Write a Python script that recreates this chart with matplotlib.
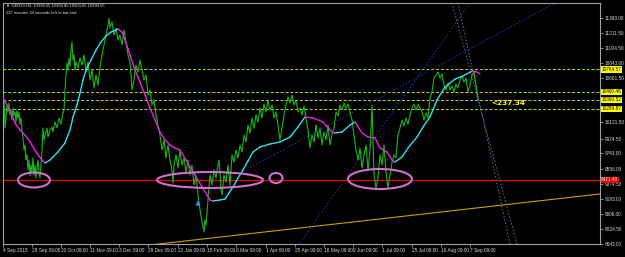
import matplotlib.pyplot as plt
from matplotlib.patches import Ellipse

# --- GER30 H4 close line (bar position, price) ---
bars = [4, 5, 6, 7, 8, 9, 10, 11, 12, 13, 14, 15, 16, 17, 18, 19, 20, 21, 22, 23, 24, 25, 26, 27,
        28, 29, 30, 31, 32, 33, 34, 35, 36, 37, 38, 39, 40, 41, 42, 43, 44, 45, 47, 48, 50, 52, 53,
        55, 57, 59, 61, 63, 64, 65, 66, 67, 68, 69, 70, 71, 72, 73, 74, 75, 76, 78, 80, 82, 84, 86,
        88, 90, 92, 94, 96, 98, 100, 102, 104, 106, 108, 109, 110, 112, 114, 116, 118, 120, 122, 124,
        126, 128, 130, 132, 134, 136, 138, 140, 142, 144, 146, 148, 150, 152, 154, 156, 158, 160,
        162, 164, 166, 168, 170, 172, 173, 174, 176, 178, 180, 182, 184, 186, 188, 190, 192, 194,
        196, 198, 200, 202, 204, 205, 206, 208, 210, 212, 214, 216, 218, 219, 220, 221, 222, 224,
        226, 228, 230, 232, 234, 236, 238, 240, 242, 244, 246, 248, 250, 252, 254, 256, 258, 260,
        262, 264, 266, 268, 270, 272, 274, 276, 278, 280, 282, 284, 286, 288, 290, 292, 294, 296,
        298, 300, 302, 304, 306, 308, 310, 312, 314, 316, 318, 320, 322, 324, 326, 328, 330, 332,
        334, 336, 338, 340, 342, 344, 346, 348, 350, 352, 354, 356, 358, 360, 362, 364, 366, 368,
        370, 372, 373, 374, 376, 378, 380, 382, 384, 386, 388, 390, 392, 394, 396, 398, 400, 402,
        404, 406, 408, 410, 412, 414, 416, 418, 420, 422, 424, 426, 428, 430, 432, 434, 436, 438,
        440, 442, 444, 446, 448, 450, 452, 454, 456, 458, 460, 462, 464, 466, 468, 470, 472, 474,
        476, 478]
close = [10393, 10053, 10174, 10332, 10247, 10357, 10211, 10271, 10150, 10296, 10199, 10247, 10126,
         10271, 10174, 10247, 10101, 10174, 10028, 9931, 9785, 9846, 9664, 9725, 9543, 9664, 9470,
         9603, 9518, 9688, 9482, 9603, 9445, 9567, 9664, 9518, 9445, 9603, 9785, 10053, 9907, 9968,
         10053, 9943, 10028, 10065, 10004, 10126, 10053, 10174, 10101, 10235, 10271, 10515, 10697,
         10843, 10758, 10903, 10806, 11000, 11098, 10879, 10940, 10758, 10855, 10782, 10903, 10818,
         10940, 10733, 10855, 10636, 10758, 10539, 10697, 10575, 10782, 10940, 11061, 11183, 11304,
         11389, 11268, 11341, 11183, 11268, 11122, 11183, 11061, 11244, 11098, 10940, 10855, 10515,
         10636, 10818, 10733, 10879, 10758, 10636, 10697, 10454, 10515, 10332, 10393, 10211, 10089,
         9968, 9785, 9907, 9688, 9846, 9664, 9543, 9385, 9603, 9725, 9567, 9785, 9603, 9688, 9518,
         9664, 9482, 9603, 9360, 9482, 9239, 9057, 8911, 8789, 8935, 8874, 9178, 9482, 9360, 9543,
         9445, 9603, 9664, 9518, 9300, 9239, 9482, 9397, 9603, 9360, 9725, 9640, 9785, 9688, 9846,
         9761, 9968, 9883, 10089, 9992, 10174, 10053, 10211, 10126, 10296, 10174, 10344, 10247,
         10393, 10271, 10332, 10174, 10247, 10089, 9907, 10053, 10211, 10332, 10430, 10357, 10454,
         10332, 10393, 10247, 10296, 10211, 10320, 10174, 10028, 9810, 9968, 9883, 10089, 9931,
         10053, 9846, 10004, 9907, 10089, 9846, 9968, 10053, 10247, 10199, 10332, 10271, 10357,
         10296, 10344, 10247, 10150, 9968, 9785, 9664, 9810, 9567, 9725, 9846, 9543, 9785, 10332,
         9907, 9482, 9324, 9445, 9725, 9603, 9846, 9518, 9324, 9482, 9628, 9725, 9688, 9968, 10053,
         10150, 10077, 10174, 10101, 10211, 10296, 10344, 10271, 10344, 10296, 10247, 10150, 10235,
         10174, 10417, 10490, 10660, 10697, 10733, 10660, 10709, 10575, 10515, 10600, 10515, 10563,
         10490, 10587, 10539, 10636, 10685, 10612, 10660, 10490, 10575, 10697, 10733, 10575, 10393]

# --- moving average (bar position, value) ---
ma_bars = [4, 10, 15, 20, 25, 30, 36, 42, 45, 50, 53, 58, 65, 70, 73, 77, 80, 83, 86, 91, 96, 101,
           106, 111, 118, 122, 125, 130, 135, 140, 145, 150, 155, 160, 165, 170, 175, 180, 186,
           193, 202, 207, 210, 213, 220, 225, 229, 233, 238, 243, 248, 253, 260, 270, 280, 290,
           298, 305, 313, 323, 332, 335, 342, 350, 355, 362, 368, 375, 380, 387, 392, 395, 402,
           408, 417, 423, 430, 437, 445, 455, 463, 472, 477, 480]
ma_vals = [10393, 10271, 10114, 10028, 9968, 9883, 9761, 9664, 9628, 9664, 9700, 9761, 9871, 10028,
           10186, 10332, 10478, 10636, 10758, 10879, 11000, 11098, 11171, 11219, 11256, 11219,
           11122, 10940, 10758, 10612, 10454, 10296, 10150, 10004, 9907, 9846, 9810, 9785, 9664,
           9518, 9336, 9239, 9178, 9166, 9178, 9190, 9263, 9336, 9445, 9543, 9652, 9761, 9822,
           9858, 9883, 9943, 10065, 10186, 10174, 10126, 10004, 9992, 10004, 10089, 10126, 9992,
           9943, 9931, 9810, 9761, 9664, 9640, 9700, 9810, 9943, 10065, 10186, 10393, 10551,
           10648, 10685, 10745, 10733, 10709]

# --- horizontal levels ---
yellow_levels = [10764.57, 10490.48, 10393.52, 10284.87]
red_level = 9421.40

# --- drawn objects ---
trend_x = [150, 600]
trend_y = [8631, 9251]
channel_x = [[290, 470], [250, 555]]
channel_y = [[8485, 11572], [9570, 11572]]
fan_x = [[452, 517], [458, 510]]
fan_y = [[11572, 8643], [11572, 8643]]
ellipse_x = [34, 210, 276, 380]
ellipse_y = [9421, 9421, 9445, 9433]
ellipse_w = [32, 106, 13, 64]
ellipse_h = [182, 194, 122, 243]
arrow_bar = 198
arrow_price = 9178
profit_text = "<237.34"
profit_bar = 491
profit_price = 10357

# --- axis labels ---
price_ticks = [11393.00, 11211.50, 11024.50, 10843.00, 10661.50, 10121.50, 9924.50, 9743.00,
               9556.00, 9374.50, 9193.00, 9006.00, 8824.50, 8643.00]
date_ticks = [3, 32, 61, 90, 119, 148, 178, 207, 236, 266, 295, 324, 353, 382, 412, 441, 470]
date_labels = ["4 Sep 2015", "28 Sep 09:00", "20 Oct 09:00", "11 Nov 09:00", "3 Dec 09:00",
               "29 Dec 09:00", "22 Jan 09:00", "15 Feb 09:00", "8 Mar 09:00", "1 Apr 09:00",
               "25 Apr 09:00", "18 May 09:00", "9 Jun 09:00", "1 Jul 09:00", "25 Jul 09:00",
               "16 Aug 09:00", "7 Sep 09:00"]

W, H = 625, 257
fig = plt.figure(figsize=(W / 100, H / 100), dpi=100, facecolor="black")
ax = fig.add_axes([3 / W, 1 - 244 / H, 597 / W, 241 / H], facecolor="black")
ax.set_xlim(3, 600)
ax.set_ylim(8643, 11572)

for s in ax.spines.values():
    s.set_color("#a0a0a0")
    s.set_linewidth(0.8)

small = dict(family=["Liberation Sans", "DejaVu Sans"], size=3.4)
tiny = dict(family=["Liberation Sans", "DejaVu Sans"], size=3.0)

# levels
for lv in yellow_levels:
    ax.axhline(lv, color="#d4d400", lw=0.7, ls=(0, (3, 2)), zorder=1)
ax.axhline(red_level, color="#ee0000", lw=0.9, zorder=1)

# trend / channel / fan lines
ax.plot(trend_x, trend_y, color="#c8a000", lw=0.8, zorder=1)
for xs, ys in zip(channel_x, channel_y):
    ax.plot(xs, ys, color="#2a36c0", lw=0.7, ls=(0, (1.5, 2)), zorder=1)
for xs, ys in zip(fan_x, fan_y):
    ax.plot(xs, ys, color="#5a7aa0", lw=0.7, ls=(0, (1.5, 2)), zorder=1)

# price line
ax.plot(bars, close, color="#18b818", lw=0.8, zorder=3)

# moving average, cyan while rising, magenta while falling
for i in range(len(ma_bars) - 1):
    c = "#30e0f0" if ma_vals[i + 1] >= ma_vals[i] else "#f020e8"
    ax.plot(ma_bars[i:i + 2], ma_vals[i:i + 2], color=c, lw=1.0, zorder=4,
            solid_capstyle="round")

for cx, cy, w, h in zip(ellipse_x, ellipse_y, ellipse_w, ellipse_h):
    ax.add_patch(Ellipse((cx, cy), w, h, fill=False, edgecolor="#d070d0", lw=1.5, zorder=5))

ax.annotate("", xy=(arrow_bar, arrow_price + 30), xytext=(arrow_bar, arrow_price - 70),
            arrowprops=dict(arrowstyle="-|>", color="#2e8ee8", lw=1.2, mutation_scale=5),
            zorder=6)

ax.text(profit_bar, profit_price, profit_text, color="#ffff00", fontsize=5.2,
        fontweight="bold", va="center", ha="left", zorder=6)

# right price scale
ax.yaxis.tick_right()
ax.set_yticks(price_ticks)
ax.set_yticklabels([f"{p:.2f}" for p in price_ticks], fontdict=small)
ax.tick_params(axis="y", colors="#a0a0a0", length=2, width=0.6, pad=1.2)
for lv in yellow_levels:
    ax.text(1.002, lv, f"{lv:.2f}", transform=ax.get_yaxis_transform(), color="black",
            va="center", ha="left", fontdict=small,
            bbox=dict(facecolor="#ffff00", edgecolor="none", pad=0.4))
ax.text(1.002, red_level, f"{red_level:.2f}", transform=ax.get_yaxis_transform(), color="white",
        va="center", ha="left", fontdict=small,
        bbox=dict(facecolor="#ee0000", edgecolor="none", pad=0.4))

# time scale
ax.set_xticks(date_ticks)
ax.set_xticklabels(date_labels, ha="left", fontdict=small)
ax.tick_params(axis="x", colors="#a0a0a0", length=2, width=0.6, pad=1.2)
for lbl in ax.get_xticklabels() + ax.get_yticklabels():
    lbl.set_color("#d8d8d8")

fig.text(6 / W, 1 - 6 / H, "\u25bc GER30,H4  10394.55 10394.85 10303.65 10394.65",
         color="#e0e0e0", va="center", ha="left", fontdict=tiny)
fig.text(6 / W, 1 - 13 / H, "237 minutes 34 seconds left to bar end",
         color="#e0e0e0", va="center", ha="left", fontdict=tiny)

fig.savefig("out.png", dpi=100, facecolor="black")
